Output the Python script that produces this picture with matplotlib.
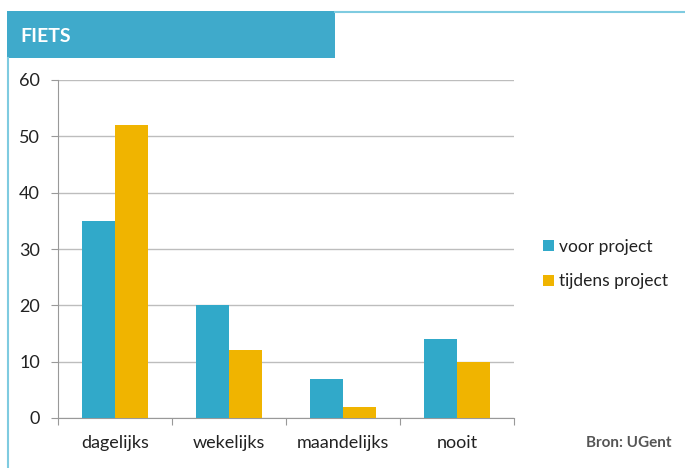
import numpy as np
import matplotlib.pyplot as plt
from matplotlib.patches import Rectangle
from matplotlib.lines import Line2D

# Fietsgebruik voor en tijdens het project
categories = ["dagelijks", "wekelijks", "maandelijks", "nooit"]
voor = [35, 20, 7, 14]
tijdens = [52, 12, 2, 10]
series_labels = ["voor project", "tijdens project"]
yticks = [0, 10, 20, 30, 40, 50, 60]

blue = "#31A9C9"
yellow = "#F0B400"
frame = "#7FCBE0"

plt.rcParams["font.family"] = ["Lato", "DejaVu Sans"]

fig = plt.figure(figsize=(6.85, 4.68), dpi=100)

# Kader en titelbalk
fig.add_artist(Line2D([8 / 685, 8 / 685], [0, 1 - 58 / 468], color=frame, lw=1.5))
fig.add_artist(Line2D([335 / 685, 1], [1 - 12 / 468, 1 - 12 / 468], color=frame, lw=1.5))
fig.add_artist(Rectangle((7 / 685, 1 - 58 / 468), 328 / 685, 47 / 468,
                         transform=fig.transFigure, color="#3FAACB", lw=0))
fig.text(20 / 685, 1 - 36 / 468, "FIETS", color="white", fontsize=14,
         fontweight="bold", va="center", ha="left")

ax = fig.add_axes([58 / 685, 50 / 468, 456 / 685, 338 / 468])

x = np.arange(len(categories))
w = 0.29
ax.bar(x - w / 2, voor, w, color=blue, label=series_labels[0], zorder=3)
ax.bar(x + w / 2, tijdens, w, color=yellow, label=series_labels[1], zorder=3)

ax.set_xlim(-0.5, len(categories) - 0.5)
ax.set_ylim(0, 60)
ax.set_yticks(yticks)
ax.yaxis.grid(True, color="#BDBDBD", lw=1, zorder=0)

# Streepjes tussen de categorieën
ax.set_xticks(np.arange(-0.5, len(categories)), minor=False)
ax.set_xticklabels([])
ax.set_xticks(x, minor=True)
ax.set_xticklabels(categories, minor=True, fontsize=13, color="#222222")
ax.tick_params(axis="x", which="minor", length=0, pad=12)
ax.tick_params(axis="x", which="major", length=5, color="#999999")
ax.tick_params(axis="y", length=5, color="#999999", labelsize=13,
               labelcolor="#222222", pad=8)

for side in ["top", "right"]:
    ax.spines[side].set_visible(False)
for side in ["left", "bottom"]:
    ax.spines[side].set_color("#999999")

ax.legend(loc="center left", bbox_to_anchor=(1.03, 0.455), frameon=False,
          fontsize=12.5, handlelength=0.6, handleheight=0.6, handletextpad=0.3,
          labelspacing=1.05, labelcolor="#222222")

fig.text(672 / 685, 1 - 443 / 468, "Bron: UGent", ha="right", va="center",
         fontsize=11, fontweight="bold", color="#555555")

fig.savefig("out.png", dpi=100)
